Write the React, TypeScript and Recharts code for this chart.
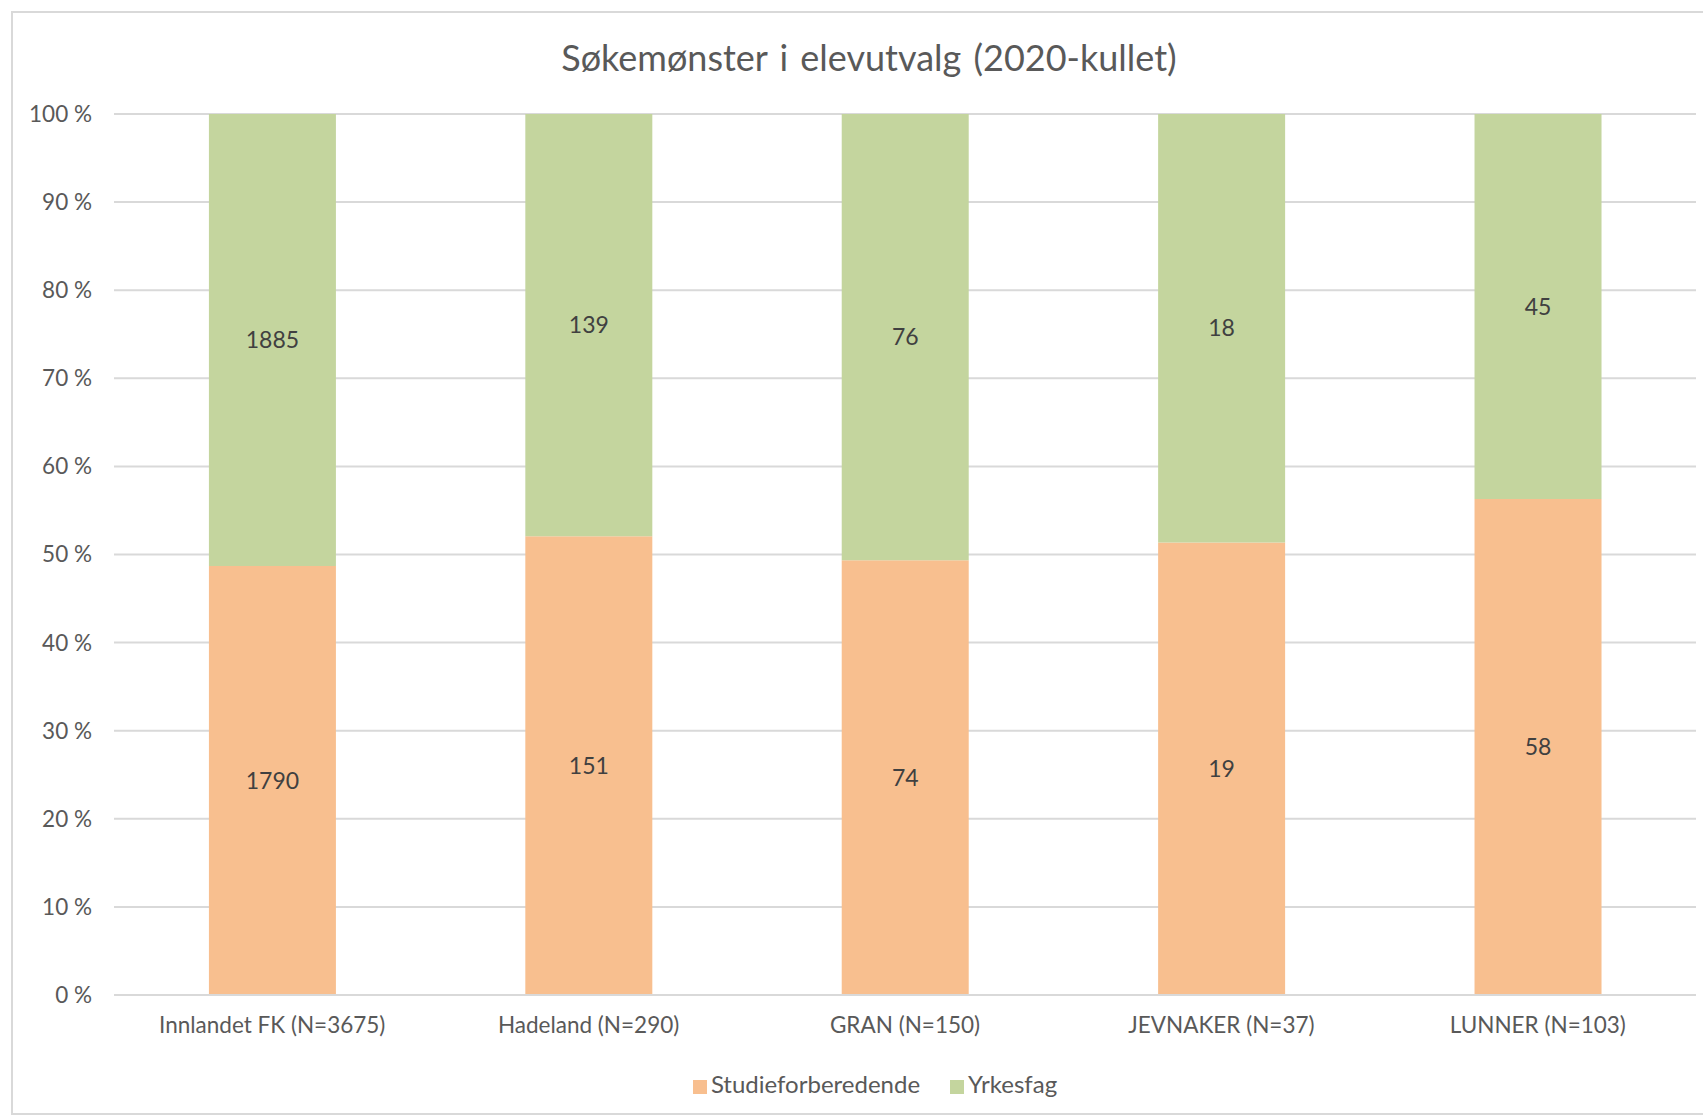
import { BarChart, Bar, XAxis, YAxis, CartesianGrid, Legend, LabelList } from 'recharts';

const categories = ['Innlandet FK (N=3675)', 'Hadeland (N=290)', 'GRAN (N=150)', 'JEVNAKER (N=37)', 'LUNNER (N=103)'];
const studieforberedende = [1790, 151, 74, 19, 58];
const yrkesfag = [1885, 139, 76, 18, 45];
const yTicks = [0, 0.1, 0.2, 0.3, 0.4, 0.5, 0.6, 0.7, 0.8, 0.9, 1];

const data = categories.map((name, i) => ({
  name,
  studie: studieforberedende[i],
  yrke: yrkesfag[i],
}));

const FONT = 'Lato, "Open Sans", sans-serif';
const TEXT = '#595959';
const GRID = '#D9D9D9';
const ORANGE = '#F8BF8F';
const GREEN = '#C4D59E';

const W = 1690;
const H = 1100;

export default function App() {
  return (
    <div
      style={{
        position: 'absolute',
        left: 11,
        top: 11,
        width: W,
        height: H,
        border: `2px solid ${GRID}`,
        borderRight: 'none',
        background: '#fff',
        fontFamily: FONT,
        overflow: 'hidden',
      }}
    >
      <div
        style={{
          position: 'absolute',
          top: 24,
          left: 0,
          width: 1712,
          textAlign: 'center',
          fontSize: 36,
          color: TEXT,
          lineHeight: '40px',
          wordSpacing: 3,
        }}
      >
        Søkemønster i elevutvalg (2020-kullet)
      </div>
      <BarChart
        width={W}
        height={H}
        data={data}
        stackOffset="expand"
        barCategoryGap="30%"
        margin={{ top: 101, right: 7, left: 0, bottom: 18 }}
      >
        <CartesianGrid vertical={false} stroke={GRID} strokeWidth={2} />
        <XAxis
          dataKey="name"
          height={74}
          tickLine={false}
          axisLine={{ stroke: GRID, strokeWidth: 2 }}
          tickMargin={16}
          tick={{ fill: TEXT, fontSize: 22.5, fontFamily: FONT }}
          interval={0}
        />
        <YAxis
          width={101}
          domain={[0, 1]}
          ticks={yTicks}
          tickFormatter={(v: number) => `${Math.round(v * 100)} %`}
          tickLine={false}
          axisLine={false}
          tickSize={0}
          tickMargin={22}
          tick={{ fill: TEXT, fontSize: 22.5, fontFamily: FONT }}
        />
        <Legend
          verticalAlign="bottom"
          height={26}
          iconType="square"
          iconSize={14}
          wrapperStyle={{ left: 0, width: 1754, fontSize: 24, fontFamily: FONT }}
          formatter={(value: string) => <span style={{ color: TEXT, marginRight: 20 }}>{value}</span>}
        />
        <Bar dataKey="studie" name="Studieforberedende" stackId="a" fill={ORANGE} isAnimationActive={false}>
          <LabelList dataKey="studie" position="center" fill="#404040" fontSize={23} fontFamily={FONT} />
        </Bar>
        <Bar dataKey="yrke" name="Yrkesfag" stackId="a" fill={GREEN} isAnimationActive={false}>
          <LabelList dataKey="yrke" position="center" fill="#404040" fontSize={23} fontFamily={FONT} />
        </Bar>
      </BarChart>
    </div>
  );
}
